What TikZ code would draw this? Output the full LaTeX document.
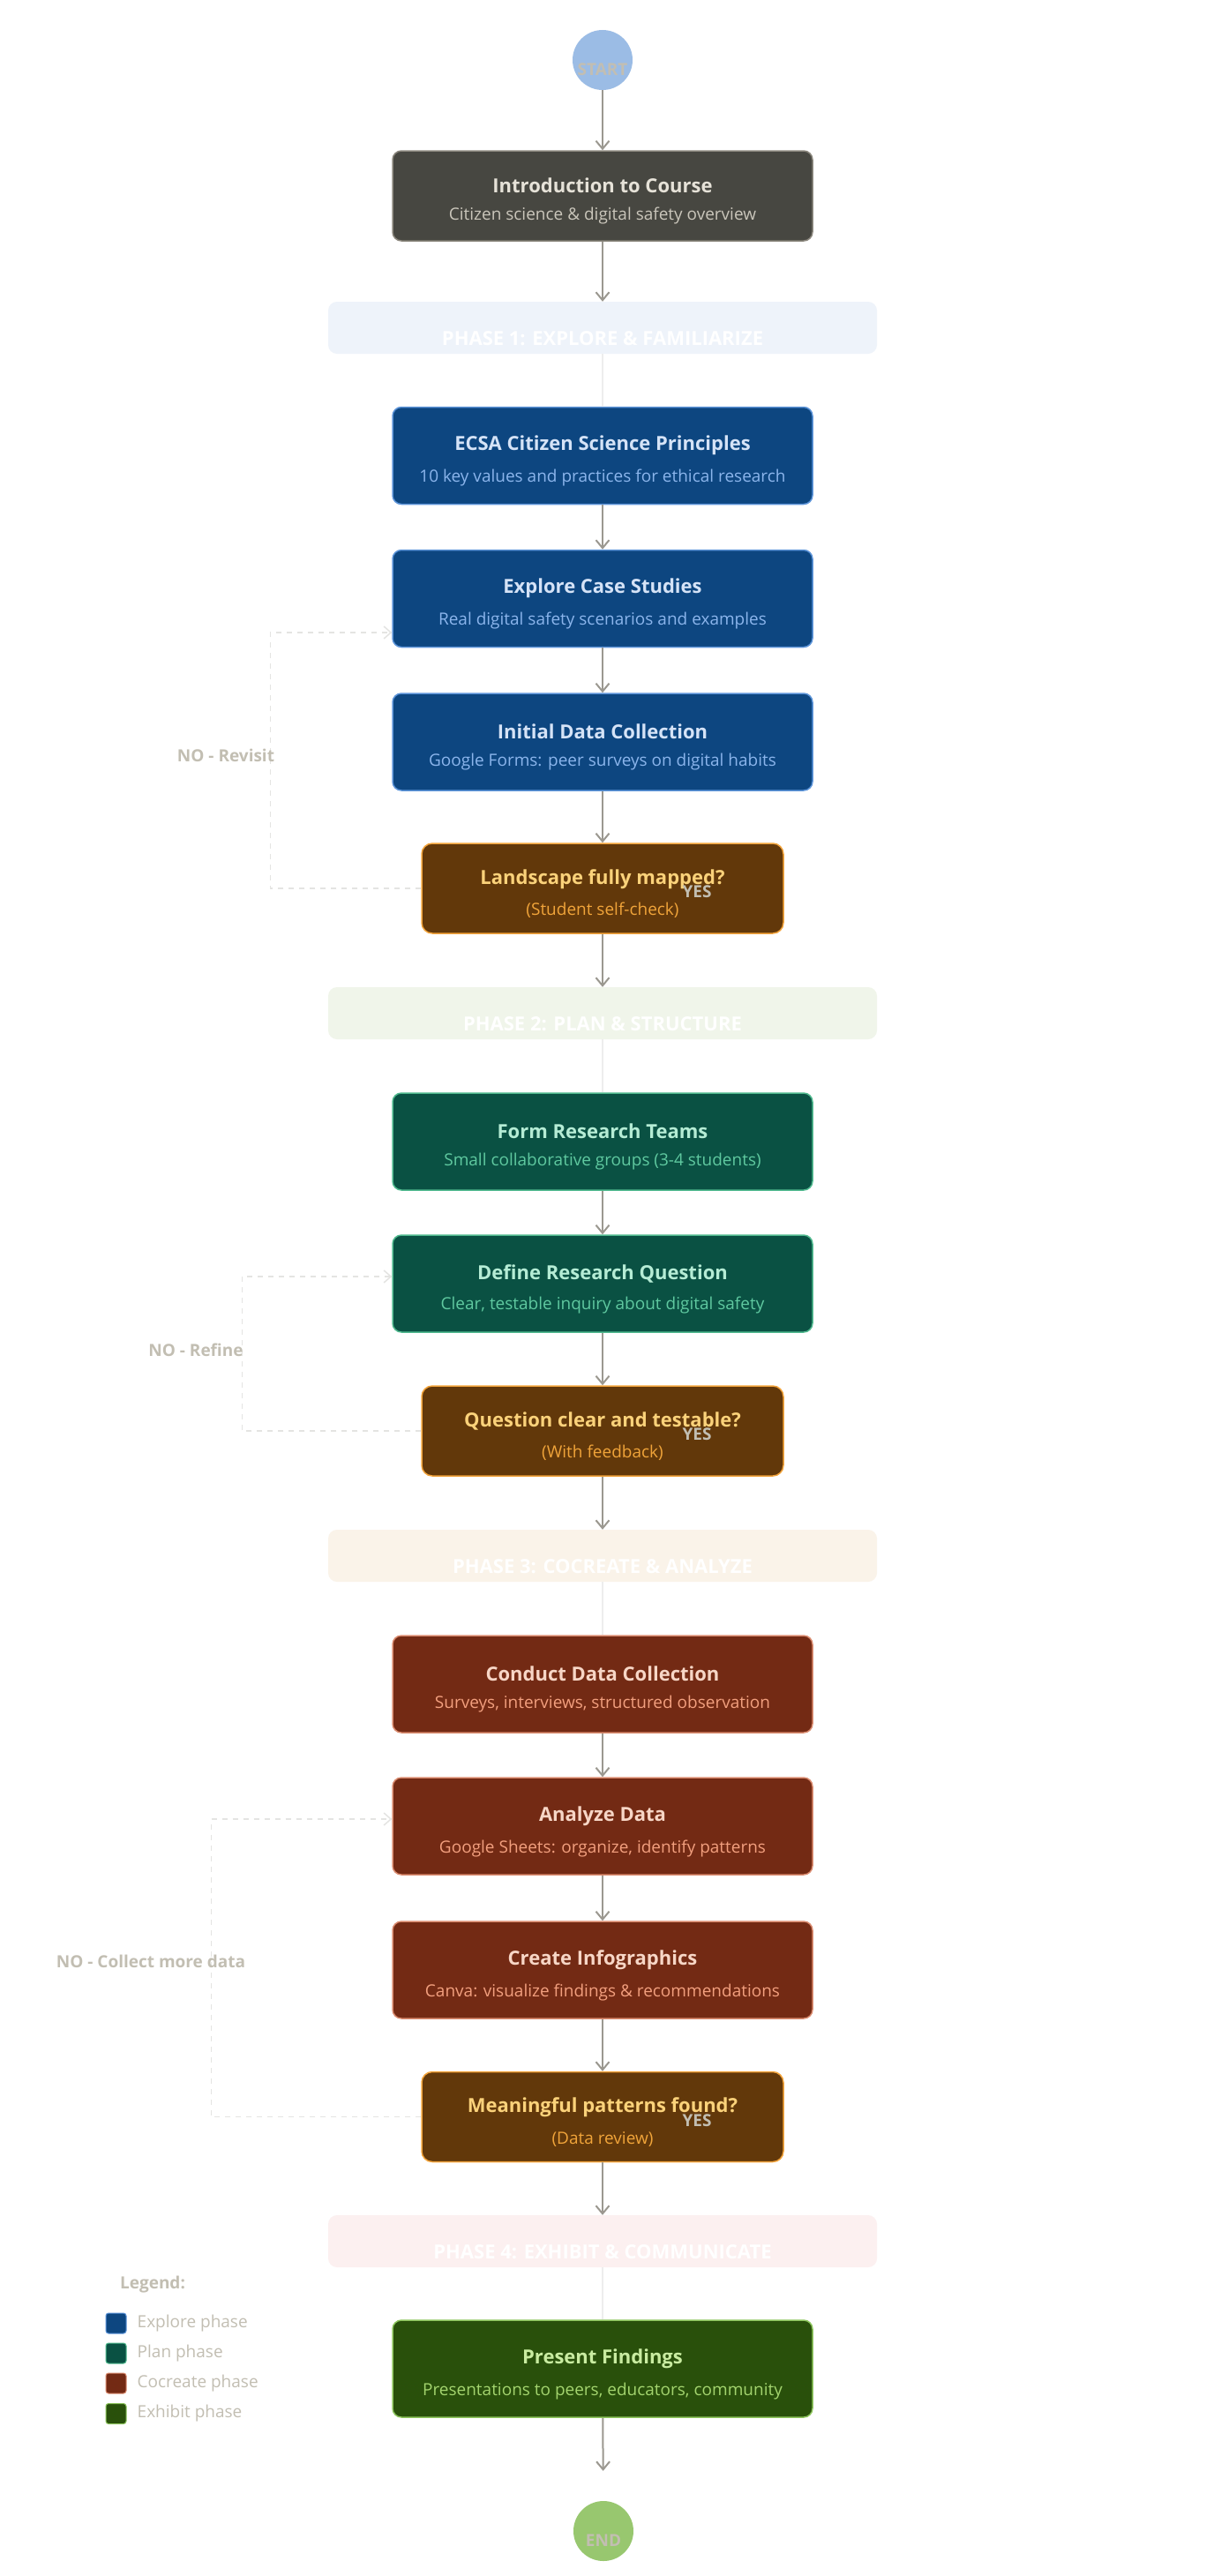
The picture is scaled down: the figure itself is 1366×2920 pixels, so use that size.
\documentclass[tikz,border=0pt]{standalone}
\usepackage{fontspec}
\setmainfont{Open Sans}
\usetikzlibrary{arrows.meta, calc}

% phase colours
\definecolor{introfill}{HTML}{474741}
\definecolor{introline}{HTML}{8A867C}
\definecolor{introtitle}{HTML}{E6E2D8}
\definecolor{introsub}{HTML}{CAC6BB}
\definecolor{explorefill}{HTML}{0D4680}
\definecolor{exploreline}{HTML}{5B93D8}
\definecolor{exploretitle}{HTML}{D5E3F7}
\definecolor{exploresub}{HTML}{8BB5EC}
\definecolor{planfill}{HTML}{0A5143}
\definecolor{planline}{HTML}{4FB98E}
\definecolor{plantitle}{HTML}{B5ECD5}
\definecolor{plansub}{HTML}{5FC9A0}
\definecolor{cocreatefill}{HTML}{732A14}
\definecolor{cocreateline}{HTML}{D98A6E}
\definecolor{cocreatetitle}{HTML}{F7D6C6}
\definecolor{cocreatesub}{HTML}{F29F7E}
\definecolor{exhibitfill}{HTML}{29500B}
\definecolor{exhibitline}{HTML}{8CC45C}
\definecolor{exhibittitle}{HTML}{C9ECA1}
\definecolor{exhibitsub}{HTML}{A3D46E}
\definecolor{checkfill}{HTML}{62380A}
\definecolor{checkline}{HTML}{F2A33A}
\definecolor{checktitle}{HTML}{FBD27A}
\definecolor{checksub}{HTML}{F0A43A}
\definecolor{startfill}{HTML}{9BBCE5}
\definecolor{endfill}{HTML}{98C76F}
\definecolor{bandone}{HTML}{EEF3FA}
\definecolor{bandtwo}{HTML}{F0F5EA}
\definecolor{bandthree}{HTML}{FAF3E9}
\definecolor{bandfour}{HTML}{FCF0F0}
\definecolor{arrowgray}{HTML}{9B9890}
\definecolor{loopgray}{HTML}{E4E4E2}
\definecolor{labelgray}{HTML}{C2BEB2}

\newcommand{\ttlsize}{\fontsize{22}{26}\selectfont\bfseries}
\newcommand{\subsize}{\fontsize{19}{23}\selectfont}
\newcommand{\boxtxt}[3]{{\ttlsize\rule{0pt}{29pt}#1}\\[15pt]{\subsize\color{#3}#2}}

\begin{document}
\begin{tikzpicture}[x=1pt, y=-1pt,
    box/.style={rectangle, rounded corners=10pt, minimum width=476pt,
        minimum height=110pt, line width=1.5pt, align=center, inner sep=0pt},
    introbox/.style={box, minimum height=102pt, fill=introfill, draw=introline, text=introtitle},
    explorebox/.style={box, fill=explorefill, draw=exploreline, text=exploretitle},
    planbox/.style={box, fill=planfill, draw=planline, text=plantitle},
    cocreatebox/.style={box, fill=cocreatefill, draw=cocreateline, text=cocreatetitle},
    exhibitbox/.style={box, fill=exhibitfill, draw=exhibitline, text=exhibittitle},
    checkbox/.style={box, minimum width=410pt, minimum height=102pt, rounded corners=12pt,
        fill=checkfill, draw=checkline, text=checktitle},
    band/.style={rectangle, rounded corners=10pt, minimum width=622pt, minimum height=59pt,
        inner sep=0pt, text height=49pt, text depth=10pt, text=white,
        font=\fontsize{22}{26}\selectfont\bfseries},
    terminal/.style={circle, minimum size=68pt, inner sep=0pt, text=labelgray,
        text height=34pt, text depth=0pt, font=\fontsize{19}{22}\selectfont\bfseries},
    flow/.style={draw=arrowgray, line width=2pt, -{Straight Barb[length=9pt, width=15pt]}},
    faint/.style={draw=black!7, line width=1.5pt},
    back/.style={draw=loopgray, line width=1.5pt, dashed, dash pattern=on 6pt off 6pt,
        -{Straight Barb[length=8pt, width=14pt]}},
    answer/.style={text=labelgray, font=\fontsize{19}{22}\selectfont\bfseries},
    legsquare/.style={rectangle, rounded corners=3pt, minimum size=23pt, inner sep=0pt, line width=1pt},
    legtext/.style={text=labelgray, inner sep=3pt, font=\fontsize{19}{22}\selectfont}]

    % Page
    \fill[white] (0,0) rectangle (1366,2920);
    \useasboundingbox (0,0) rectangle (1366,2920);

    % Start and introduction
    \node[terminal, fill=startfill] (start) at (683,68) {START};
    \node[introbox] (intro) at (683,222)
        {\boxtxt{Introduction to Course}{Citizen science \& digital safety overview}{introsub}};

    % Phase 1
    \node[band, fill=bandone] (band1) at (683,371.5) {PHASE 1: EXPLORE \& FAMILIARIZE};
    \node[explorebox] (ecsa) at (683,516.5)
        {\boxtxt{ECSA Citizen Science Principles}{10 key values and practices for ethical research}{exploresub}};
    \node[explorebox] (cases) at (683,678.5)
        {\boxtxt{Explore Case Studies}{Real digital safety scenarios and examples}{exploresub}};
    \node[explorebox] (initdata) at (683,841)
        {\boxtxt{Initial Data Collection}{Google Forms: peer surveys on digital habits}{exploresub}};
    \node[checkbox] (mapped) at (683,1007)
        {\boxtxt{Landscape fully mapped?}{(Student self-check)}{checksub}};

    % Phase 2
    \node[band, fill=bandtwo] (band2) at (683,1148.5) {PHASE 2: PLAN \& STRUCTURE};
    \node[planbox] (teams) at (683,1294)
        {\boxtxt{Form Research Teams}{Small collaborative groups (3-4 students)}{plansub}};
    \node[planbox] (question) at (683,1455)
        {\boxtxt{Define Research Question}{Clear, testable inquiry about digital safety}{plansub}};
    \node[checkbox] (clearq) at (683,1622)
        {\boxtxt{Question clear and testable?}{(With feedback)}{checksub}};

    % Phase 3
    \node[band, fill=bandthree] (band3) at (683,1763.5) {PHASE 3: COCREATE \& ANALYZE};
    \node[cocreatebox] (collect) at (683,1909)
        {\boxtxt{Conduct Data Collection}{Surveys, interviews, structured observation}{cocreatesub}};
    \node[cocreatebox] (analyze) at (683,2070)
        {\boxtxt{Analyze Data}{Google Sheets: organize, identify patterns}{cocreatesub}};
    \node[cocreatebox] (infographics) at (683,2233)
        {\boxtxt{Create Infographics}{Canva: visualize findings \& recommendations}{cocreatesub}};
    \node[checkbox] (patterns) at (683,2399.5)
        {\boxtxt{Meaningful patterns found?}{(Data review)}{checksub}};

    % Phase 4 and end
    \node[band, fill=bandfour] (band4) at (683,2540.5) {PHASE 4: EXHIBIT \& COMMUNICATE};
    \node[exhibitbox] (present) at (683,2685)
        {\boxtxt{Present Findings}{Presentations to peers, educators, community}{exhibitsub}};
    \node[terminal, fill=endfill] (finish) at (684,2869) {END};

    % Main flow
    \draw[flow] (start) -- (intro);
    \draw[flow] (intro) -- (band1);
    \draw[faint] (band1) -- (ecsa);
    \draw[flow] (ecsa) -- (cases);
    \draw[flow] (cases) -- (initdata);
    \draw[flow] (initdata) -- (mapped);
    \draw[flow] (mapped) -- (band2);
    \draw[faint] (band2) -- (teams);
    \draw[flow] (teams) -- (question);
    \draw[flow] (question) -- (clearq);
    \draw[flow] (clearq) -- (band3);
    \draw[faint] (band3) -- (collect);
    \draw[flow] (collect) -- (analyze);
    \draw[flow] (analyze) -- (infographics);
    \draw[flow] (infographics) -- (patterns);
    \draw[flow] (patterns) -- (band4);
    \draw[faint] (band4) -- (present);
    \draw[flow, shorten >=34pt] (present) -- (finish);

    % Yes answers
    \node[answer] (yes1) at ($(mapped.center)+(107,4)$) {YES};
    \node[answer] (yes2) at ($(clearq.center)+(107,4)$) {YES};
    \node[answer] (yes3) at ($(patterns.center)+(107,4)$) {YES};

    % Loops back
    \draw[back] (mapped.west) -- ++(-171,0) |- ([yshift=-38.5pt]cases.west);
    \draw[back] (clearq.west) -- ++(-203,0) |- ([yshift=8pt]question.west);
    \draw[back] (patterns.west) -- ++(-238,0) |- ([yshift=8pt]analyze.west);
    \node[answer] (revisit) at (256,856) {NO - Revisit};
    \node[answer] (refine) at (222,1530) {NO - Refine};
    \node[answer] (moredata) at (171,2223) {NO - Collect more data};

    % Legend
    \node[answer] (legend) at (173,2590) {Legend:};
    \node[legsquare, fill=explorefill, draw=exploreline] (lgexplore) at (131.5,2633.5) {};
    \node[legsquare, fill=planfill, draw=planline] (lgplan) at (131.5,2667.5) {};
    \node[legsquare, fill=cocreatefill, draw=cocreateline] (lgcocreate) at (131.5,2701.5) {};
    \node[legsquare, fill=exhibitfill, draw=exhibitline] (lgexhibit) at (131.5,2736) {};
    \node[legtext, anchor=west] (txexplore) at ([xshift=9pt]lgexplore.east) {Explore phase};
    \node[legtext, anchor=west] (txplan) at ([xshift=9pt]lgplan.east) {Plan phase};
    \node[legtext, anchor=west] (txcocreate) at ([xshift=9pt]lgcocreate.east) {Cocreate phase};
    \node[legtext, anchor=west] (txexhibit) at ([xshift=9pt]lgexhibit.east) {Exhibit phase};

\end{tikzpicture}
\end{document}
